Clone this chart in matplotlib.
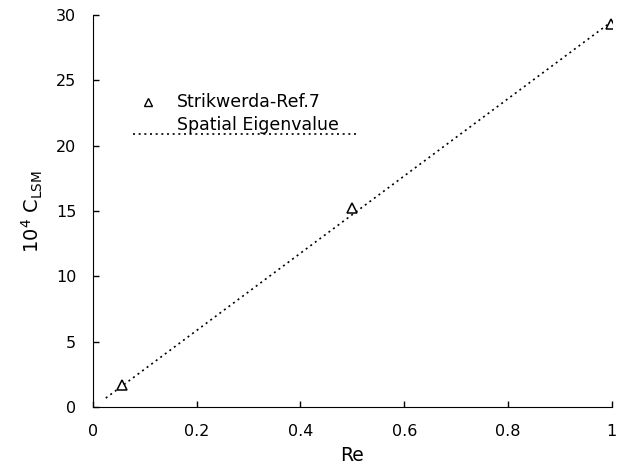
import matplotlib
matplotlib.use("Agg")
import matplotlib.pyplot as plt

# Strikwerda reference points
re_ref = [0.057, 0.50, 0.998]
c_ref = [1.7, 15.2, 29.3]

# spatial eigenvalue line
re_eig = [0.025, 1.0]
c_eig = [0.7, 29.5]

xticks = [0, 0.2, 0.4, 0.6, 0.8, 1]
xticklabels = ["0", "0.2", "0.4", "0.6", "0.8", "1"]
yticks = [0, 5, 10, 15, 20, 25, 30]

plt.rcParams["font.family"] = "DejaVu Sans"

fig = plt.figure(figsize=(6.23, 4.67), dpi=100)
ax = fig.add_axes([0.149, 0.128, 0.833, 0.840])

ax.plot(re_eig, c_eig, linestyle=(0, (1.2, 2.2)), color="black", linewidth=1.2)
ax.plot(re_ref, c_ref, linestyle="none", marker="^", markersize=7.5,
        markerfacecolor="white", markeredgecolor="black", markeredgewidth=1.1)

# hand-made legend like the original
ax.plot([0.106], [0.778], transform=ax.transAxes, marker="^", markersize=6,
        markerfacecolor="white", markeredgecolor="black", linestyle="none")
ax.text(0.162, 0.778, "Strikwerda-Ref.7", transform=ax.transAxes,
        fontsize=12.5, va="center", ha="left")
ax.text(0.162, 0.719, "Spatial Eigenvalue", transform=ax.transAxes,
        fontsize=12.5, va="center", ha="left")
ax.plot([0.077, 0.509], [0.697, 0.697], transform=ax.transAxes,
        linestyle=(0, (1.2, 2.2)), color="black", linewidth=1.2)

ax.set_xlim(0, 1)
ax.set_ylim(0, 30)
ax.set_xticks(xticks)
ax.set_xticklabels(xticklabels)
ax.set_yticks(yticks)
ax.tick_params(direction="in", length=4, width=1, labelsize=11.5)
ax.tick_params(axis="x", pad=12)
ax.tick_params(axis="y", pad=12)

ax.spines["top"].set_visible(False)
ax.spines["right"].set_visible(False)

ax.set_xlabel("Re", fontsize=13.5, labelpad=5)
ax.set_ylabel(r"10$^4$ C$_{\mathrm{LSM}}$", fontsize=14, labelpad=8)

fig.savefig("out.png", dpi=100)
